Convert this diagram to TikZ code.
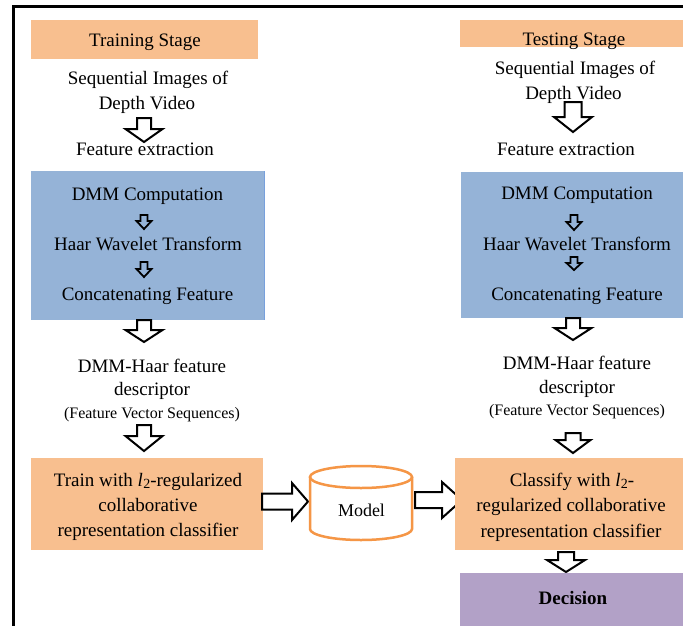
\documentclass[tikz,border=0pt]{standalone}
\usepackage{fontspec}
\setmainfont{Liberation Serif}
\definecolor{peachc}{RGB}{248,191,143}
\definecolor{bluec}{RGB}{149,179,215}
\definecolor{blueedge}{RGB}{120,160,220}
\definecolor{purplec}{RGB}{178,161,199}
\definecolor{cylc}{RGB}{245,150,70}
\tikzset{
  txt/.style={anchor=base, inner sep=0pt, font=\fontsize{19}{25}\selectfont},
  smalltxt/.style={anchor=base, inner sep=0pt, font=\fontsize{16}{18}\selectfont},
  boxnode/.style={inner sep=0pt, outer sep=0pt},
  bigarrow/.style={draw=black, fill=white, line width=2pt, line join=miter},
  smallarrow/.style={draw=black, line width=1.8pt, line join=miter},
  cylline/.style={draw=cylc, line width=2.5pt},
}
% italic l with subscript 2
\newcommand{\ltwo}{\textit{l}\kern0.3pt\raisebox{-0.3ex}{\fontsize{14}{14}\selectfont 2}}
% downward block arrow: style, centre x, top y, shoulder y, tip y, half body, half head
\newcommand{\downblock}[7]{%
  \draw[#1] ({#2-#6},#3) -- ({#2+#6},#3) -- ({#2+#6},#4) -- ({#2+#7},#4)
    -- (#2,#5) -- ({#2-#7},#4) -- ({#2-#6},#4) -- cycle;}
% rightward block arrow: style, left x, shoulder x, tip x, centre y, half body, half head
\newcommand{\rightblock}[7]{%
  \draw[#1] (#2,{#5-#6}) -- (#3,{#5-#6}) -- (#3,{#5-#7}) -- (#4,#5)
    -- (#3,{#5+#7}) -- (#3,{#5+#6}) -- (#2,{#5+#6}) -- cycle;}
\begin{document}
\begin{tikzpicture}[x=1pt,y=-1pt]
\useasboundingbox (0,0) rectangle (683,625);
\clip (0,0) rectangle (683,625);
\fill[white] (0,0) rectangle (683,625);

% frame
\draw[line width=2.5pt] (13.5,630) -- (13.5,6.5) -- (690,6.5);

% ---------- training column ----------
\node[boxnode, fill=peachc, minimum width=227, minimum height=39] (trainstage) at (144.5,39.5) {};
\node[txt] (trainstagetxt) at (145,46) {Training Stage};
\node[txt] (seqL1) at (148,84) {Sequential Images of};
\node[txt] (seqL2) at (147,109) {Depth Video};
\downblock{bigarrow}{144}{118}{129}{142}{7}{18.5}
\node[txt] (featL) at (145,155) {Feature extraction};

\node[boxnode, fill=bluec, minimum width=233, minimum height=149] (blueL) at (147.5,245.5) {};
\draw[blueedge, line width=1pt] (blueL.north east) -- (blueL.south east);
\node[txt] (dmmL) at (147.5,200.5) {DMM Computation};
\downblock{smallarrow}{144}{215}{221}{229}{3.5}{7.5}
\node[txt] (haarL) at (148,250.5) {Haar Wavelet Transform};
\downblock{smallarrow}{144}{262}{269}{277}{3.5}{7.5}
\node[txt] (concL) at (147.5,300.5) {Concatenating Feature};

\downblock{bigarrow}{144}{320}{330}{342}{7}{18.5}
\node[txt] (descL1) at (152,372) {DMM-Haar feature};
\node[txt] (descL2) at (152,395) {descriptor};
\node[smalltxt] (descL3) at (152,418) {(Feature Vector Sequences)};
\downblock{bigarrow}{144}{425}{436}{451}{7}{18.5}

\node[boxnode, fill=peachc, minimum width=232, minimum height=92] (train) at (147,504) {};
\node[txt] (trainT1) at (148,486) {Train with \ltwo-regularized};
\node[txt] (trainT2) at (148,511) {collaborative};
\node[txt] (trainT3) at (148,536) {representation classifier};

% ---------- model ----------
\rightblock{bigarrow}{262}{292}{308}{501.5}{8}{18.5}
\fill[white] (310,477) -- (310,529) arc[start angle=180, end angle=360, x radius=51pt, y radius=11pt] -- (412,477) -- cycle;
\draw[cylline] (310,477) -- (310,529) arc[start angle=180, end angle=360, x radius=51pt, y radius=11pt] -- (412,477);
\draw[cylline] (361,477) ellipse[x radius=51pt, y radius=11pt];
\node[anchor=base, inner sep=0pt, font=\fontsize{18}{20}\selectfont] (model) at (361.5,516) {Model};
\rightblock{bigarrow}{415}{442}{462}{500}{8}{18}

% ---------- testing column ----------
\node[boxnode, fill=peachc, minimum width=230, minimum height=27] (teststage) at (575,33.5) {};
\node[txt] (teststagetxt) at (574,45) {Testing Stage};
\node[txt] (seqR1) at (575,74.5) {Sequential Images of};
\node[txt] (seqR2) at (573.5,99.5) {Depth Video};
\downblock{bigarrow}{573}{102}{117}{132}{8.5}{19}
\node[txt] (featR) at (566,155.5) {Feature extraction};

\node[boxnode, fill=bluec, minimum width=232, minimum height=146] (blueR) at (577,245) {};
\node[txt] (dmmR) at (577,199.5) {DMM Computation};
\downblock{smallarrow}{574}{215}{222}{230}{3.5}{7.5}
\node[txt] (haarR) at (577,250) {Haar Wavelet Transform};
\downblock{smallarrow}{574}{257}{263}{270}{3.5}{7.5}
\node[txt] (concR) at (577,300) {Concatenating Feature};

\downblock{bigarrow}{573}{318}{328}{340}{7}{18.5}
\node[txt] (descR1) at (577,369.5) {DMM-Haar feature};
\node[txt] (descR2) at (577,393) {descriptor};
\node[smalltxt] (descR3) at (577,415) {(Feature Vector Sequences)};
\downblock{bigarrow}{573}{433}{440}{453}{7.5}{17.5}

\node[boxnode, fill=peachc, minimum width=232, minimum height=92] (classify) at (571,504) {};
\node[txt] (clsT1) at (572,486) {Classify with \ltwo-};
\node[txt] (clsT2) at (571,511) {regularized collaborative};
\node[txt] (clsT3) at (571,537) {representation classifier};

\downblock{bigarrow}{566}{552}{560}{572}{8}{19}
\node[boxnode, fill=purplec, minimum width=230, minimum height=56] (decision) at (575,601) {};
\node[txt, font=\fontsize{19}{25}\selectfont\bfseries] (decisiontxt) at (573,604) {Decision};
\end{tikzpicture}
\end{document}
